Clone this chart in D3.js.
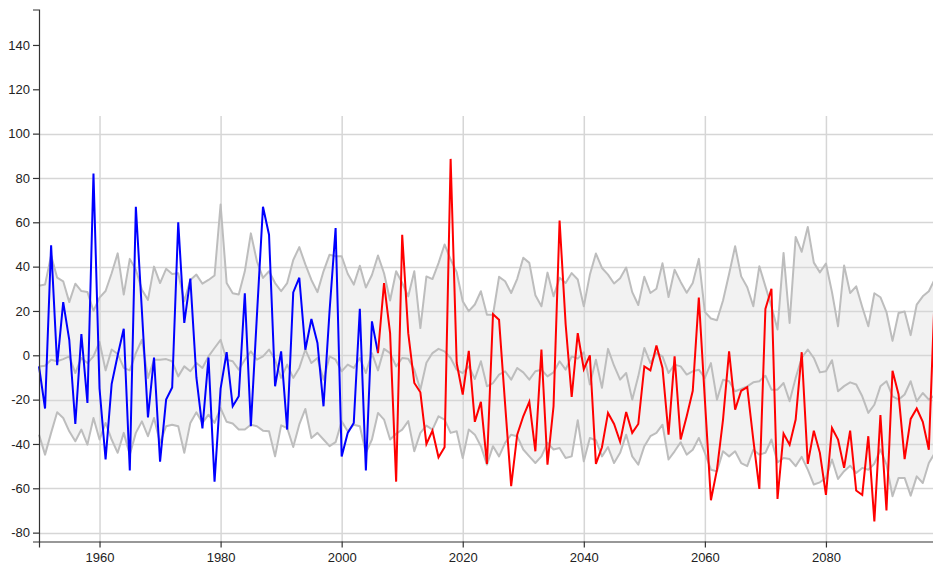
<!DOCTYPE html>
<html><head><meta charset="utf-8">
<script src="https://cdn.jsdelivr.net/npm/d3@7"></script>
<style>
body{margin:0;background:#fff;overflow:hidden}
svg{display:block}
.axis text{font-family:"Liberation Sans",Arial,sans-serif;font-size:13px;fill:#222}
.axis path,.axis line{stroke:#333;stroke-width:1.2}
</style></head><body><svg id="c" width="933" height="565"></svg>
<script>
const startYear = 1950;
const upperBand = [31.4,31.9,45,35,33.4,24,32.3,29,28.6,20,26,29,37,46,27.4,43.5,38.6,29.6,25,40,32.6,39,36.7,37,24.4,34,36.4,32.3,34,36,
68,32.6,28,27.4,37.9,55,42.4,34.9,37.9,32.6,28.9,32.6,43,48.8,41,34,28.5,37.9,45.4,44.7,
44.7,36.8,31.9,40.4,30.6,36.2,45,37,24.7,37.9,32.6,26.6,37.9,12.3,35.6,34.4,41.6,50,43.2,37.5,
24.4,19.9,22.9,28.9,18.3,18.3,35.4,33.4,28.1,34.5,44,41.7,27.1,22.1,37.3,26.6,35,32.6,37.1,34.2,
22.1,36.3,45.9,39.4,36.4,32.4,34.8,39.6,28.5,22.7,35.4,28.1,30,41.5,26.3,38.6,33.1,28.2,32.6,43.5,
19.6,16.6,15.8,24.7,36.7,49.2,35.6,30.7,22.1,40.2,31.1,22,11.6,46.2,14.6,53.4,46.7,57.9,41.8,37.4,
41.4,28.5,13.1,40.5,28.1,31.1,21.8,13.1,28,26.2,19.5,6.5,19.1,19.8,9.1,22.9,26.6,28.9,34.5];
const middleLine = [-5,-4.7,-2,-2.7,-1.7,-0.5,-8,-1.2,-3.5,-0.5,6,-6.8,2.6,0.6,-5.7,-6.8,1,7,-10.2,-2,
-2,-1.7,-2.7,-9.5,-5,-7.2,-3.5,-5.7,-0.5,3.3,7,-2,-2.7,-6.5,-2,1.8,-2,-0.5,2.6,-2,
-10.2,-4.2,-10.2,-5.7,2.6,-3.5,-1.2,-11,-0.5,-2,-7.2,-4.2,-5.7,-1.2,-8,1,-6.8,2.9,1,-5,
-1.2,-1.6,-6.5,-15.5,-3.4,1,2.9,1.8,-1.2,-6.5,-8,-5,-10.7,-2.7,-14,-12.5,-8.7,-7.2,-11,-5.7,
-7.7,-11,-7.2,-6.5,-9.5,-7.7,-2.7,-6.5,-0.5,-1.5,1.4,-13.2,-2,-14.7,2.9,-4.7,-11,-8,-20,-9.5,
3.3,-3.5,1,-0.5,-8,-4.2,-5,-8.7,-7.2,-6.5,-10.2,-3.5,-20,-11,-11.7,-16.2,-15.2,-14,-12.2,-11.7,
-9.2,-15.5,-15.5,-12.5,-20.7,-10.2,-1.2,2.6,-1.2,-7.7,-7.2,-2.2,-16.2,-13.9,-12.2,-13.2,-18.5,-26,-22.3,-14,
-11.7,-18.5,-20,-17.7,-11.7,-20.7,-17,-20,-18];
const lowerBand = [-35.8,-44.8,-35,-25.7,-28.3,-34.3,-38.8,-33.5,-40.3,-28.3,-38,-30.5,-38,-44,-35,-44.8,-35,-29.8,-36.5,-28.3,
-39.5,-32,-31.3,-32,-44,-30.5,-25.7,-30.5,-26.8,-30.5,-23.8,-30,-30.8,-33.5,-33.5,-31.3,-32,-34,-34.3,-45.6,
-31.6,-32.8,-41.4,-31.2,-24.2,-37.3,-35,-38,-41,-39.2,-29.8,-34.3,-31.3,-32,-44,-38,-26,-29,-38,-35.4,
-33.5,-29.7,-43.3,-35,-31.7,-33.5,-27.5,-29,-35,-34.3,-46.3,-33.5,-35.8,-41,-49.3,-41,-45.6,-39.5,-35.8,-36.5,
-42.5,-45.6,-48.6,-45.6,-39.5,-42.5,-41.8,-46.3,-45.6,-29.3,-47.8,-37.3,-38.3,-45.6,-41.4,-48.6,-44,-35.8,-45.6,-49.3,
-41,-36.5,-35,-31.3,-47,-43.3,-39.2,-44.8,-42.6,-37.3,-44,-51.6,-52.3,-43.3,-45.6,-43.3,-48.6,-50,-42.6,-44.8,
-44,-38,-48.3,-46.3,-46.8,-50,-45.8,-51.6,-58.3,-57.3,-55.3,-47,-55.8,-52.3,-49.8,-53.1,-50.8,-51.6,-48.9,-42.5,
-49.3,-63.6,-55.3,-55.3,-63.3,-54.6,-57.6,-48.6,-44];
const observedStart = 1950;
const observed = [-5,-24,49.6,-4.5,24,7,-31,9.6,-21.5,82,-15,-47,-13,0,12,-52,67,20,-28,-1,
-48,-20,-14.5,60,14.6,34.6,-10,-33,-1,-57,-15,1.4,-23,-18.5,28,-32,18,67,54.4,-14,
1.8,-33.5,28.4,35,2.5,16.4,5.6,-23,20,57.4,-45.6,-35,-30.5,21,-52,15.3,1];
const projectedStart = 2006;
const projected = [1,32.6,10,-57,54.4,10,-12.5,-16.7,-40,-34,-46,-41.5,88.6,-3.5,-17.7,2,-30,-21,-49,18.5,
16,-22,-59,-35.8,-27.5,-21,-43.3,2.6,-49.3,-23,60.8,14,-18.8,10,-6.3,0,-49,-41.5,-26,-31,
-39,-25.6,-35,-31,-5,-6.8,4.4,-5.7,-35.8,-0.5,-38,-27.5,-16,26,-20,-65.4,-51.6,-29,1.8,-24.5,
-16,-14.4,-38,-60.3,20.9,30,-64.8,-35.3,-40.3,-29,1.4,-49,-34,-44,-63,-32.8,-38,-50.8,-34,-61,
-63,-36.5,-75,-27,-70,-7,-17.7,-46.8,-28.7,-24,-30,-42.6,30];
const yTicks = [-80,-60,-40,-20,0,20,40,60,80,100,120,140];
const yGrid = [-80,-60,-40,-20,0,20,40,60,80,100];
const xTicks = [1960,1980,2000,2020,2040,2060,2080];

const svg = d3.select("#c");
const W = 933;
const x = d3.scaleLinear().domain([1950, 2100]).range([39, 947]);
const y = d3.scaleLinear().domain([-84, 156]).range([541.5, 9.5]);

const band = upperBand.map((u, i) => ({yr: startYear + i, hi: u, mid: middleLine[i], lo: lowerBand[i]}));

svg.append("path").datum(band)
  .attr("fill", "#f2f2f2")
  .attr("d", d3.area().x(d => x(d.yr)).y0(d => y(d.lo)).y1(d => y(d.hi)));

const g = svg.append("g");
g.selectAll("line.h").data(yGrid).join("line")
  .attr("x1", x(1950)+0.5).attr("x2", W)
  .attr("y1", d => Math.round(y(d))+0.5).attr("y2", d => Math.round(y(d))+0.5)
  .attr("stroke", "#d6d6d6").attr("stroke-width", 1.5);
g.selectAll("line.v").data(xTicks).join("line")
  .attr("x1", d => x(d)+0.5).attr("x2", d => x(d)+0.5)
  .attr("y1", y(108)).attr("y2", y(-84))
  .attr("stroke", "#d6d6d6").attr("stroke-width", 1.5);

const greyLine = key => d3.line().x(d => x(d.yr)).y(d => y(d[key]));
["hi","mid","lo"].forEach(k => {
  svg.append("path").datum(band).attr("fill","none")
    .attr("stroke","#bdbdbd").attr("stroke-width",2)
    .attr("stroke-linejoin","round")
    .attr("d", greyLine(k));
});

const line = d3.line().x(d => x(d.yr)).y(d => y(d.v));
svg.append("path").datum(observed.map((v,i)=>({yr: observedStart+i, v})))
  .attr("fill","none").attr("stroke","#0000ff").attr("stroke-width",2).attr("d", line);
svg.append("path").datum(projected.map((v,i)=>({yr: projectedStart+i, v})))
  .attr("fill","none").attr("stroke","#ff0000").attr("stroke-width",2).attr("d", line);

svg.append("g").attr("class","axis")
  .attr("transform", `translate(0,${y(-84)})`)
  .call(d3.axisBottom(x).tickValues(xTicks).tickFormat(d => String(d)).tickSizeOuter(6).tickPadding(5));
svg.append("g").attr("class","axis")
  .attr("transform", `translate(${x(1950)},0)`)
  .call(d3.axisLeft(y).tickValues(yTicks).tickFormat(d => String(d)).tickSizeOuter(6));
</script></body></html>
